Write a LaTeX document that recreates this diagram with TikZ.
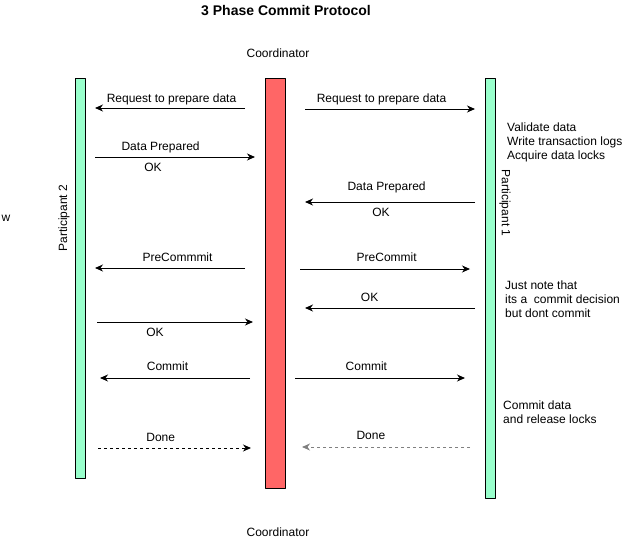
\documentclass[tikz,border=0pt]{standalone}
\usepackage{fontspec}
\setmainfont{Liberation Sans}
\usetikzlibrary{calc}
\usetikzlibrary{arrows.meta}
\definecolor{fftttt}{rgb}{1.,0.4,0.4}
\definecolor{wwffcc}{rgb}{0.6,1.,0.8}
\definecolor{aaaaaa}{rgb}{0.5,0.5,0.5}
\tikzstyle{every node}=[font=\fontsize{12}{14}\selectfont,inner sep=0pt]
\tikzstyle{msg}=[->,line width=1pt]
\tikzstyle{done}=[->,line width=1pt,dash pattern=on 3pt off 3pt]
\begin{document}
\begin{tikzpicture}[line cap=butt,line join=round,>={Stealth[length=8pt,width=7pt,inset=2.5pt]},x=1pt,y=-1pt]
                \useasboundingbox (0,0) rectangle (636,544);
                \node [font=\bfseries\fontsize{14}{16}\selectfont] (title) at (286,11) {3 Phase Commit Protocol};
                \node (coordtop) at (278,53) {Coordinator};
                \node (coordbot) at (278,532) {Coordinator};
                \node (w) at (6,218) {w};
                \draw [line width=1pt,fill=fftttt] (265,78) rectangle (285,488);
                \draw [line width=1pt,fill=wwffcc] (75,78) rectangle (85,478);
                \draw [line width=1pt,fill=wwffcc] (485,78) rectangle (495,498);
                \node [rotate=90] (part2) at (64,218) {Participant 2};
                \node [rotate=-90] (part1) at (505,203) {Participant 1};
                % notes at participant 1
                \node [anchor=north west,align=left] (note1) at (507,123) {Validate data\\Write transaction logs\\Acquire data locks};
                \node [anchor=north west,align=left] (note2) at (505,281) {Just note that\\its a\ \ commit decision\\but dont commit};
                \node [anchor=north west,align=left] (note3) at (503,401) {Commit data\\and release locks};
                % prepare
                \coordinate (a1) at (245,108); \coordinate (b1) at (95,108);
                \coordinate (a2) at (305,109); \coordinate (b2) at (475,109);
                \draw [msg] (a1) -- (b1) node [pos=0.49,yshift=9pt] (l1) {Request to prepare data};
                \draw [msg] (a2) -- (b2) node [pos=0.45,yshift=10pt] (l2) {Request to prepare data};
                \coordinate (a3) at (95,157); \coordinate (b3) at (255,157);
                \coordinate (a4) at (475,202); \coordinate (b4) at (305,202);
                \draw [msg] (a3) -- (b3) node [pos=0.41,yshift=10pt] (l3) {Data Prepared};
                \node (ok3) at (153,167) {OK};
                \draw [msg] (a4) -- (b4) node [pos=0.52,yshift=15pt] (l4) {Data Prepared};
                \node (ok4) at (381,212) {OK};
                % precommit
                \coordinate (a5) at (245,268); \coordinate (b5) at (95,268);
                \coordinate (a6) at (300,269); \coordinate (b6) at (470,269);
                \draw [msg] (a5) -- (b5) node [pos=0.45,yshift=11pt] (l5) {PreCommmit};
                \draw [msg] (a6) -- (b6) node [pos=0.51,yshift=12pt] (l6) {PreCommit};
                \coordinate (a7) at (475,308); \coordinate (b7) at (305,308);
                \coordinate (a8) at (97,322); \coordinate (b8) at (253,322);
                \draw [msg] (a7) -- (b7) node [pos=0.62,yshift=11pt] (l7) {OK};
                \draw [msg] (a8) -- (b8);
                \node (ok8) at (155,332) {OK};
                % commit
                \coordinate (a9) at (250,378); \coordinate (b9) at (100,378);
                \coordinate (a10) at (295,378); \coordinate (b10) at (465,378);
                \draw [msg] (a9) -- (b9) node [pos=0.55,yshift=12pt] (l9) {Commit};
                \draw [msg] (a10) -- (b10) node [pos=0.42,yshift=12pt] (l10) {Commit};
                \coordinate (a11) at (98,448); \coordinate (b11) at (251,448);
                \coordinate (a12) at (470,447); \coordinate (b12) at (302,447);
                \draw [done] (a11) -- (b11) node [pos=0.41,yshift=11pt] (l11) {Done};
                \draw [done,color=aaaaaa] (a12) -- (b12) node [pos=0.59,yshift=12pt,color=black] (l12) {Done};
\end{tikzpicture}
\end{document}
